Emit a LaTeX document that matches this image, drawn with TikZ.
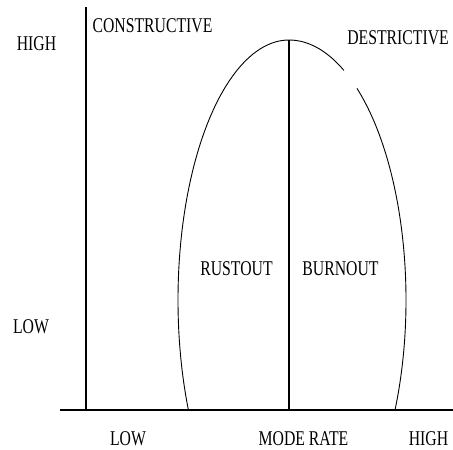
\documentclass[tikz,border=0pt]{standalone}
\usepackage{fontspec}
\newfontfamily\lblfont[FakeStretch=0.75]{Liberation Serif}
\begin{document}
\begin{tikzpicture}[x=1pt,y=-1pt,
  lbl/.style={font=\lblfont\fontsize{21}{25}\selectfont, inner sep=0pt, text depth=0pt, anchor=base},
  axis/.style={line width=1.1pt, black},
  curve/.style={line width=0.9pt, black}]
\useasboundingbox (0,0) rectangle (453,450);
% axes
\coordinate (ytop) at (86,7);
\coordinate (origin) at (86,410);
\coordinate (xl) at (60,410);
\coordinate (xr) at (453,410);
\coordinate (mtop) at (289,40);
\coordinate (mbot) at (289,410);
\coordinate (ctr) at (289,300);
\draw[axis] (ytop) -- (origin);
\draw[axis] (xl) -- (xr);
\draw[axis] (mtop) -- (mbot);
% curve (left half)
\draw[curve] (mtop) arc[start angle=90, end angle=205, x radius=111, y radius=-260];
% curve (right half, with gap)
\draw[curve] (mtop) arc[start angle=90, end angle=62, x radius=117, y radius=-260];
\draw[curve] (ctr) ++(54.5:117 and -260) arc[start angle=54.5, end angle=-25, x radius=117, y radius=-260];
% labels
\node[lbl] (highy) at (36.5,50) {HIGH};
\node[lbl] (lowy) at (31,333) {LOW};
\node[lbl] (cons) at (152.5,32) {CONSTRUCTIVE};
\node[lbl] (dest) at (398,44) {DESTRICTIVE};
\node[lbl] (rust) at (236.5,275) {RUSTOUT};
\node[lbl] (burn) at (340.5,275) {BURNOUT};
\node[lbl] (lowx) at (128,445) {LOW};
\node[lbl] (modx) at (303.5,445) {MODE RATE};
\node[lbl] (highx) at (428.5,445) {HIGH};
\end{tikzpicture}
\end{document}
